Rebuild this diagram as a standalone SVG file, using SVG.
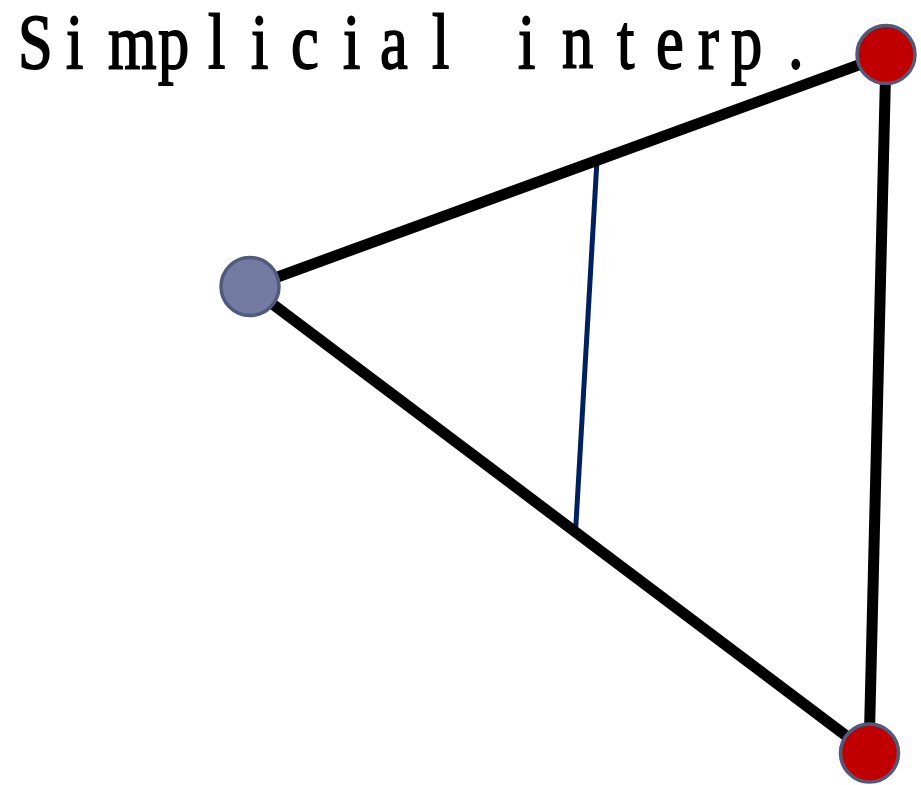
<svg xmlns="http://www.w3.org/2000/svg" width="921" height="785" viewBox="0 0 921 785">
<style>
.edge{stroke:#000;stroke-width:11;fill:none}
.interp{stroke:#002060;stroke-width:5;fill:none}
.node{stroke:#505a7a;stroke-width:3.5}
.blue{fill:#737ba3}
.red{fill:#c00000}
.title{font-family:"Liberation Serif","Noto Sans CJK JP",serif;font-size:78px;fill:#000;stroke:#000;stroke-width:1.8}
</style>
<rect width="921" height="785" fill="#fff"/>
<text class="title" transform="scale(0.8,1)" x="22.5 82.5 135 197.5 260 313.8 363.8 428.8 475 540 587.5 647.5 702.5 771.3 820 872.5 913.8 985" y="68">Simplicial interp.</text>
<g id="connectors">
<line class="interp" x1="597" y1="160" x2="575.5" y2="532"/>
<line class="edge" x1="250" y1="287" x2="886" y2="55"/>
<line class="edge" x1="886" y1="55" x2="869" y2="753"/>
<line class="edge" x1="250" y1="287" x2="869" y2="753"/>
</g>
<g id="node-left"><circle class="node blue" cx="250" cy="286.5" r="29"/></g>
<g id="node-top-right"><circle class="node red" cx="886" cy="54.5" r="29"/></g>
<g id="node-bottom-right"><circle class="node red" cx="869.5" cy="753" r="29"/></g>
</svg>
